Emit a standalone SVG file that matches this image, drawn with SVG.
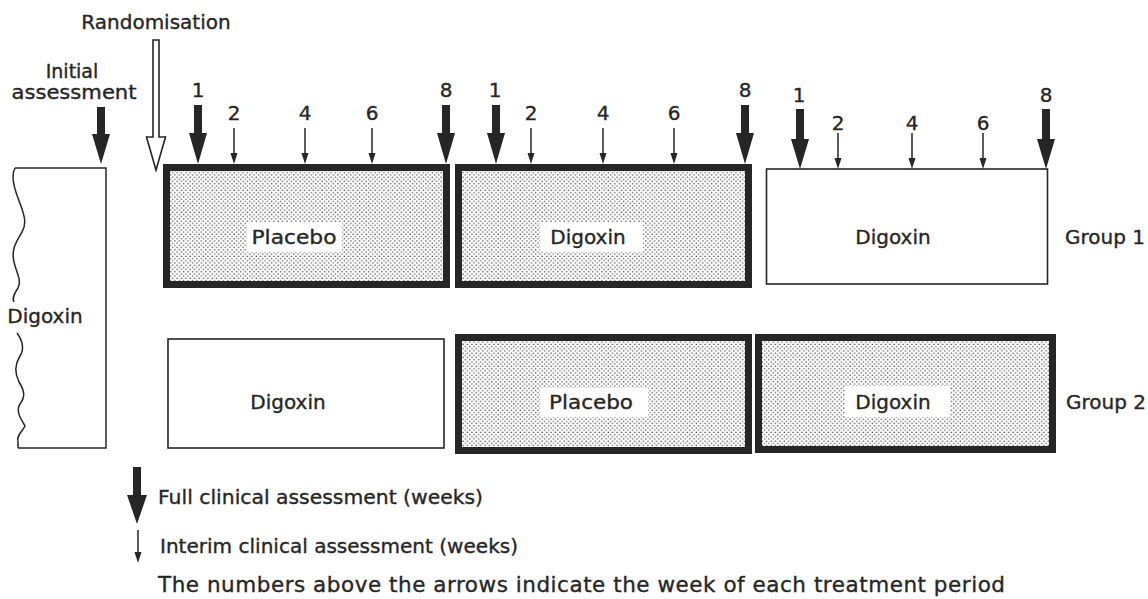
<svg xmlns="http://www.w3.org/2000/svg" width="1148" height="599" viewBox="0 0 1148 599">
<defs>
<pattern id="dots" width="4.4" height="4.4" patternUnits="userSpaceOnUse">
<circle cx="1.1" cy="1.1" r="0.75" fill="#4a4a4a"/>
<circle cx="3.3" cy="3.3" r="0.75" fill="#4a4a4a"/>
</pattern>
<style>
text{font-family:"DejaVu Sans","Liberation Sans",sans-serif;font-size:20px;fill:#262626;stroke:#262626;stroke-width:0.35}
.c{text-anchor:middle}
.thick{fill:url(#dots);stroke:#262626;stroke-width:7}
.thin{fill:#fff;stroke:#262626;stroke-width:1.6}
.lbl{fill:#fff;stroke:none}
.fa{fill:#262626;stroke:none}
.ia{stroke:#262626;stroke-width:1.5;fill:none}
.ih{fill:#262626}
</style>
</defs>
<rect width="1148" height="599" fill="#fff"/>

<!-- titles -->
<text x="156" y="29" class="c">Randomisation</text>
<text x="72" y="78" class="c" style="font-size:19px">Initial</text>
<text x="74" y="99" class="c" style="font-size:19px" textLength="125" lengthAdjust="spacingAndGlyphs">assessment</text>

<!-- left pre-phase box -->
<g id="pre">
<path d="M15,168 H106 V448 H18" fill="none" stroke="#262626" stroke-width="1.5"/>
<path d="M15,168 C11,175 13,185 18,198 C23,212 28,222 22,232 C16,242 11,250 14,262 C16,272 22,280 18,288 C14,294 12,298 14,302" fill="none" stroke="#262626" stroke-width="1.5"/>
<path d="M17,333 C22,340 25,348 20,356 C15,364 14,372 19,382 C24,390 26,396 20,404 C15,412 22,420 25,426 C22,432 16,436 18,442 C18,445 18,447 18,448" fill="none" stroke="#262626" stroke-width="1.5"/>
<text x="45" y="323" class="c">Digoxin</text>
</g>

<!-- Group 1 -->
<g id="g1p1">
<rect x="166.5" y="167.5" width="280" height="117" class="thick"/>
<rect x="247" y="222" width="95" height="30" class="lbl"/>
<text x="294" y="244" class="c" textLength="85" lengthAdjust="spacingAndGlyphs">Placebo</text>
</g>
<g id="g1p2">
<rect x="458.5" y="167.5" width="290" height="117" class="thick"/>
<rect x="540" y="222" width="103" height="30" class="lbl"/>
<text x="588" y="244" class="c">Digoxin</text>
</g>
<g id="g1p3">
<rect x="766.5" y="169" width="281" height="115" class="thin"/>
<text x="893" y="244" class="c">Digoxin</text>
</g>
<text x="1065" y="244">Group 1</text>

<!-- Group 2 -->
<g id="g2p1">
<rect x="168" y="339" width="276" height="109" class="thin"/>
<text x="288" y="409" class="c">Digoxin</text>
</g>
<g id="g2p2">
<rect x="458.5" y="337.5" width="290" height="113" class="thick"/>
<rect x="540" y="388" width="108" height="29" class="lbl"/>
<text x="591" y="409" class="c" textLength="84" lengthAdjust="spacingAndGlyphs">Placebo</text>
</g>
<g id="g2p3">
<rect x="758.5" y="337.5" width="294" height="112" class="thick"/>
<rect x="845" y="386" width="105" height="31" class="lbl"/>
<text x="893" y="409" class="c">Digoxin</text>
</g>
<text x="1066" y="409">Group 2</text>

<!-- arrows -->
<g id="connectors">
<path class="fa" d="M97,107 H105 V134 H110 L101,164 L92,134 H97 Z"/>
<path d="M153,40 H159 V137 H165.5 L156,170 L146.5,137 H153 Z" fill="#fff" stroke="#262626" stroke-width="1.6"/>

<path class="fa" d="M194,105 H202 V133 H207 L198,164 L189,133 H194 Z"/>
<path class="fa" d="M442,105 H450 V133 H455 L446,164 L437,133 H442 Z"/>
<path class="ia" d="M234,128 V156"/><path class="ih" d="M230.5,153 H237.5 L234,164 Z"/>
<path class="ia" d="M305,128 V156"/><path class="ih" d="M301.5,153 H308.5 L305,164 Z"/>
<path class="ia" d="M372,128 V156"/><path class="ih" d="M368.5,153 H375.5 L372,164 Z"/>

<path class="fa" d="M492,105 H500 V133 H505 L496,164 L487,133 H492 Z"/>
<path class="fa" d="M741,105 H749 V133 H754 L745,164 L736,133 H741 Z"/>
<path class="ia" d="M531,128 V156"/><path class="ih" d="M527.5,153 H534.5 L531,164 Z"/>
<path class="ia" d="M603,128 V156"/><path class="ih" d="M599.5,153 H606.5 L603,164 Z"/>
<path class="ia" d="M674,128 V156"/><path class="ih" d="M670.5,153 H677.5 L674,164 Z"/>

<path class="fa" d="M796,109 H804 V139 H809 L800,169 L791,139 H796 Z"/>
<path class="fa" d="M1042,109 H1050 V139 H1055 L1046,169 L1037,139 H1042 Z"/>
<path class="ia" d="M838,133 V161"/><path class="ih" d="M834.5,158 H841.5 L838,169 Z"/>
<path class="ia" d="M912,133 V161"/><path class="ih" d="M908.5,158 H915.5 L912,169 Z"/>
<path class="ia" d="M983,133 V161"/><path class="ih" d="M979.5,158 H986.5 L983,169 Z"/>

<path class="fa" d="M133,467 H141 V495 H147 L137,524 L127,495 H133 Z"/>
<path class="ia" d="M138,530 V555"/><path class="ih" d="M134.5,552 H141.5 L138,563 Z"/>
</g>

<!-- week numbers -->
<g id="weeks">
<text x="198" y="97" class="c">1</text>
<text x="234" y="120" class="c">2</text>
<text x="305" y="120" class="c">4</text>
<text x="372" y="120" class="c">6</text>
<text x="446" y="97" class="c">8</text>
<text x="495" y="97" class="c">1</text>
<text x="531" y="120" class="c">2</text>
<text x="603" y="120" class="c">4</text>
<text x="674" y="120" class="c">6</text>
<text x="745" y="97" class="c">8</text>
<text x="799" y="102" class="c">1</text>
<text x="838" y="130" class="c">2</text>
<text x="912" y="130" class="c">4</text>
<text x="983" y="130" class="c">6</text>
<text x="1046" y="102" class="c">8</text>
</g>

<!-- legend -->
<g id="legend">
<text x="158" y="504" textLength="325" lengthAdjust="spacingAndGlyphs">Full clinical assessment (weeks)</text>
<text x="160" y="553" textLength="358" lengthAdjust="spacingAndGlyphs">Interim clinical assessment (weeks)</text>
<text x="158" y="592" style="font-size:21.5px" textLength="847" lengthAdjust="spacing">The numbers above the arrows indicate the week of each treatment period</text>
</g>
</svg>
